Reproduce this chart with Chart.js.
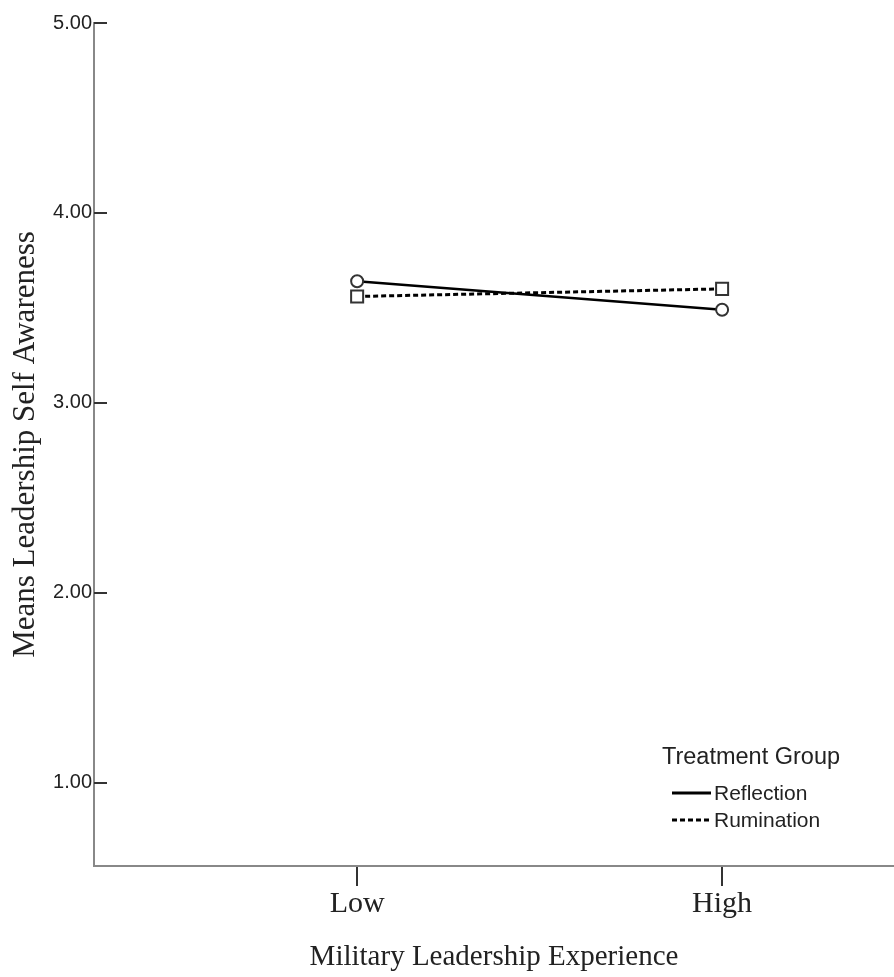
<!DOCTYPE html>
<html>
<head>
<meta charset="utf-8">
<script src="https://cdn.jsdelivr.net/npm/chart.js@4.4.1/dist/chart.umd.min.js"></script>
<style>
html,body{margin:0;padding:0;background:#fff;overflow:hidden;}
#wrap{width:894px;height:977px;position:relative;overflow:hidden;}
canvas{display:block;}
</style>
</head>
<body>
<div id="wrap"><canvas id="c"></canvas></div>
<script>
const categories = ["Low", "High"];
const categoryPositions = [1, 2];
const reflection = [3.64, 3.49];
const rumination = [3.56, 3.60];
const seriesNames = ["Reflection", "Rumination"];
const legendTitle = "Treatment Group";
const yTicks = [1, 2, 3, 4, 5];
const xTitle = "Military Leadership Experience";
const yTitle = "Means Leadership Self Awareness";

const SERIF = "'Liberation Serif', 'Times New Roman', serif";
const SANS = "'Liberation Sans', Arial, sans-serif";

const toPts = arr => arr.map((v, i) => ({x: categoryPositions[i], y: v}));

const extras = {
  id: 'extras',
  afterDraw(chart) {
    const ctx = chart.ctx;
    const y = chart.scales.y;
    const x0 = y.right;
    ctx.save();
    ctx.strokeStyle = '#333';
    ctx.lineWidth = 2;
    yTicks.forEach(t => {
      const py = Math.round(y.getPixelForValue(t));
      ctx.beginPath();
      ctx.moveTo(x0, py);
      ctx.lineTo(x0 + 13, py);
      ctx.stroke();
    });
    // legend
    ctx.fillStyle = '#222';
    ctx.font = '23.5px ' + SANS;
    ctx.textAlign = 'center';
    ctx.textBaseline = 'middle';
    ctx.fillText(legendTitle, 751, 758);
    const ds = chart.data.datasets;
    const rows = [793, 820];
    ctx.font = '21px ' + SANS;
    ctx.textAlign = 'left';
    ds.forEach((d, i) => {
      ctx.strokeStyle = '#000';
      ctx.lineWidth = 3;
      ctx.setLineDash(d.borderDash || []);
      ctx.beginPath();
      ctx.moveTo(672, rows[i]);
      ctx.lineTo(711, rows[i]);
      ctx.stroke();
      ctx.setLineDash([]);
      ctx.fillStyle = '#222';
      ctx.fillText(d.label, 714, rows[i] + 1);
    });
    ctx.restore();
  }
};

new Chart(document.getElementById('c'), {
  type: 'line',
  data: {
    datasets: [
      {
        label: seriesNames[0],
        data: toPts(reflection),
        borderColor: '#000',
        borderWidth: 2.5,
        pointStyle: 'circle',
        pointRadius: 6,
        pointBorderWidth: 2,
        pointBorderColor: '#333',
        pointBackgroundColor: '#fff',
        fill: false,
        tension: 0
      },
      {
        label: seriesNames[1],
        data: toPts(rumination),
        borderColor: '#000',
        borderWidth: 3,
        borderDash: [5, 3],
        pointStyle: 'rect',
        pointRadius: 8.5,
        pointBorderWidth: 2,
        pointBorderColor: '#333',
        pointBackgroundColor: '#fff',
        fill: false,
        tension: 0
      }
    ]
  },
  options: {
    responsive: true,
    maintainAspectRatio: false,
    animation: false,
    layout: {autoPadding: false, padding: {top: 23, right: 0, bottom: 0, left: 0}},
    plugins: {legend: {display: false}, tooltip: {enabled: false}},
    scales: {
      x: {
        type: 'linear',
        min: 0.279,
        max: 2.471,
        afterBuildTicks: s => { s.ticks = categoryPositions.map(v => ({value: v})); },
        afterFit: s => { s.height = 111; },
        ticks: {
          callback: v => categories[categoryPositions.indexOf(v)],
          color: '#222',
          font: {family: SERIF, size: 30},
          padding: 0,
          autoSkip: false,
          maxRotation: 0
        },
        grid: {drawOnChartArea: false, drawTicks: true, tickLength: 20, color: '#333', lineWidth: 2},
        border: {display: true, color: '#888', width: 2},
        title: {display: true, text: xTitle, color: '#222', font: {family: SERIF, size: 29}, padding: {top: 0, bottom: 2}}
      },
      y: {
        type: 'linear',
        min: 0.561,
        max: 5,
        afterBuildTicks: s => { s.ticks = yTicks.map(v => ({value: v})); },
        afterFit: s => { s.width = 94; },
        ticks: {
          callback: v => v.toFixed(2),
          color: '#222',
          font: {family: SANS, size: 20},
          padding: 2
        },
        grid: {drawOnChartArea: false, drawTicks: false},
        border: {display: true, color: '#888', width: 2},
        title: {display: true, text: yTitle, color: '#222', font: {family: SERIF, size: 31}, padding: {top: 7, bottom: 0}}
      }
    }
  },
  plugins: [extras]
});
</script>
</body>
</html>
